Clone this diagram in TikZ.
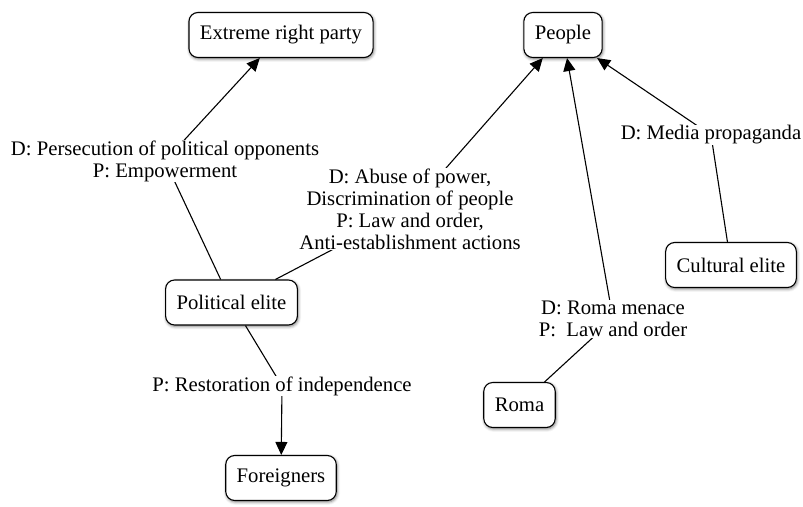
\documentclass[tikz,border=0pt]{standalone}
\usepackage{fontspec}
\setmainfont{Liberation Serif}
\usetikzlibrary{arrows.meta, shadows.blur}

\begin{document}
\begin{tikzpicture}[
  x=1pt, y=-1pt,
  font=\fontsize{20.7}{22}\selectfont,
  actor/.style={rectangle, rounded corners=9pt, draw, line width=1.1pt, fill=white,
                inner xsep=11pt, minimum height=45pt,
                blur shadow={shadow xshift=0.8pt, shadow yshift=-1.4pt, shadow blur radius=3pt, shadow opacity=55}},
  lbl/.style={fill=white, inner sep=1pt, align=center},
  rel/.style={-{Triangle[length=13pt,width=12pt]}, line width=1.1pt},
]
\useasboundingbox (0,0) rectangle (803,506);

% ---- Actors ----
\node[actor] (erp)  at (281,35)      {Extreme right party};
\node[actor] (ppl)  at (563,35)      {People};
\node[actor] (pol)  at (231.5,302.5) {Political elite};
\node[actor] (frn)  at (281,478)     {Foreigners};
\node[actor] (roma) at (519.5,405)   {Roma};
\node[actor] (cult) at (731,265)     {Cultural elite};

% ---- Label anchors (lines bend under the text) ----
\coordinate (mPers)  at (165,161);
\coordinate (mAbuse) at (410,209);
\coordinate (mRest)  at (282,386);
\coordinate (mRoma)  at (613,319);
\coordinate (mMedia) at (711,135);

% ---- Relations ----
\draw[rel] (pol)  -- (mPers)  -- (erp);
\draw[rel] (pol)  -- (mAbuse) -- (ppl);
\draw[rel] (pol)  -- (mRest)  -- (frn);
\draw[rel] (roma) -- (mRoma)  -- (ppl);
\draw[rel] (cult) -- (mMedia) -- (ppl);

% ---- Labels ----
\node[lbl] (lPers)  at (mPers)  {D: Persecution of political opponents\\P: Empowerment};
\node[lbl] (lAbuse) at (mAbuse) {D: Abuse of power,\\Discrimination of people\\P: Law and order,\\Anti-establishment actions};
\node[lbl] (lRest)  at (mRest)  {P: Restoration of independence};
\node[lbl] (lRoma)  at (mRoma)  {D: Roma menace\\P:\ \ Law and order};
\node[lbl] (lMedia) at (mMedia) {D: Media propaganda};

\end{tikzpicture}
\end{document}
